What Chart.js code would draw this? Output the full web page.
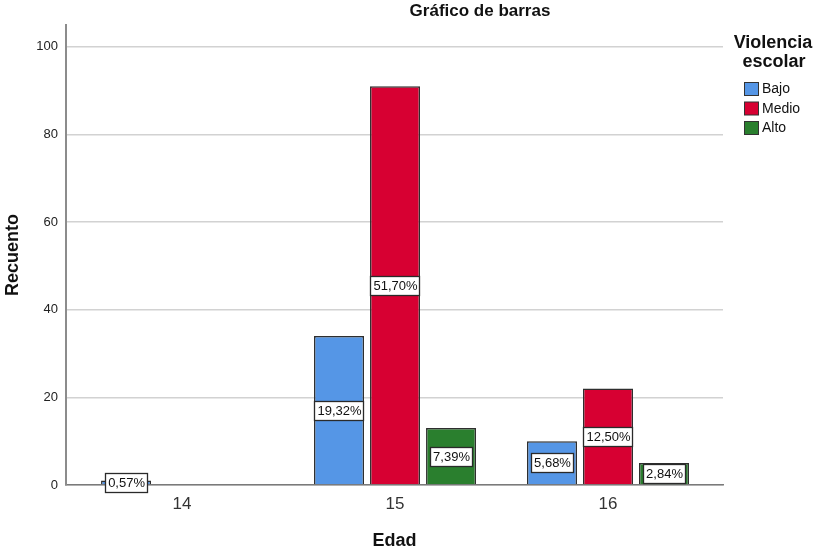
<!DOCTYPE html>
<html>
<head>
<meta charset="utf-8">
<script src="https://cdn.jsdelivr.net/npm/chart.js@4.4.1/dist/chart.umd.min.js"></script>
<style>
  html, body { margin: 0; padding: 0; background: #fff; }
  #wrap { width: 814px; height: 550px; }
</style>
</head>
<body>
<div id="wrap"><canvas id="barras"></canvas></div>
<script>
// datos (recuentos por edad)
const edades = [14, 15, 16];
const niveles = ['Bajo', 'Medio', 'Alto'];
const bajo = [1, 34, 10];
const medio = [null, 91, 22];
const alto = [null, 13, 5];
const yTicks = [0, 20, 40, 60, 80, 100];
const colores = ['#5596E6', '#D70032', '#2A7F2E'];

const FONT = '"Liberation Sans", Arial, sans-serif';
const series = [bajo, medio, alto];
const total = series.flat().reduce((s, v) => s + (v || 0), 0);

function pct(v) {
    return (v / total * 100).toFixed(2).replace('.', ',') + '%';
}

// etiquetas de porcentaje dentro de cada barra
const etiquetasPlugin = {
    id: 'etiquetas',
    afterDatasetsDraw(chart) {
        const ctx = chart.ctx;
        ctx.save();
        ctx.font = '13px ' + FONT;
        ctx.textAlign = 'center';
        ctx.textBaseline = 'middle';
        chart.data.datasets.forEach((ds, i) => {
            const meta = chart.getDatasetMeta(i);
            meta.data.forEach((bar, j) => {
                const v = ds.data[j].y;
                if (v == null) return;
                const txt = pct(v);
                const cy = (bar.y + bar.base) / 2;
                const w = ctx.measureText(txt).width + 5;
                const h = 19;
                const bx = Math.round(bar.x - w / 2) + 0.5;
                const by = Math.round(cy - h / 2) + 0.5;
                ctx.fillStyle = '#fff';
                ctx.fillRect(bx, by, Math.round(w), h);
                ctx.strokeStyle = '#2a2a2a';
                ctx.lineWidth = 1.3;
                ctx.strokeRect(bx, by, Math.round(w), h);
                ctx.fillStyle = '#111';
                ctx.fillText(txt, bar.x + 0.5, cy + 1);
            });
        });
        ctx.restore();
    }
};

// titulo, leyenda y titulos de ejes al estilo SPSS
const textosPlugin = {
    id: 'textos',
    afterDraw(chart) {
        const ctx = chart.ctx;
        const area = chart.chartArea;
        ctx.save();
        ctx.fillStyle = '#111';
        ctx.textBaseline = 'middle';
        ctx.textAlign = 'center';
        ctx.font = 'bold 17px ' + FONT;
        ctx.fillText('Gráfico de barras', 480, 11);

        ctx.font = 'bold 18px ' + FONT;
        ctx.fillText('Edad', (area.left + area.right) / 2, 541);
        ctx.save();
        ctx.translate(13, 255);
        ctx.rotate(-Math.PI / 2);
        ctx.fillText('Recuento', 0, 0);
        ctx.restore();

        // leyenda
        ctx.fillText('Violencia', 773, 43);
        ctx.fillText('escolar', 774, 62);
        ctx.textAlign = 'left';
        ctx.font = '14px ' + FONT;
        niveles.forEach((n, i) => {
            const y = 82 + i * 19.5;
            ctx.fillStyle = colores[i];
            ctx.fillRect(744.5, y + 0.5, 14, 13);
            ctx.strokeStyle = '#333';
            ctx.lineWidth = 1;
            ctx.strokeRect(744.5, y + 0.5, 14, 13);
            ctx.fillStyle = '#111';
            ctx.fillText(n, 762, y + 7.5);
        });
        ctx.restore();
    }
};

const datasets = niveles.map((n, i) => ({
    label: n,
    data: edades.map((e, j) => ({ x: e, y: series[i][j] })),
    backgroundColor: colores[i],
    borderColor: '#2e2e2e',
    borderWidth: 1.5,
    categoryPercentage: 0.789,
    barPercentage: 0.893
}));

new Chart(document.getElementById('barras'), {
    type: 'bar',
    data: { datasets: datasets },
    options: {
        responsive: true,
        maintainAspectRatio: false,
        animation: false,
        layout: { padding: { left: 0, top: 25, right: 91, bottom: 0 } },
        plugins: {
            legend: { display: false },
            title: { display: false },
            tooltip: { enabled: false }
        },
        scales: {
            x: {
                type: 'linear',
                offset: false,
                min: 13.455,
                max: 16.54,
                afterBuildTicks: (scale) => { scale.ticks = edades.map(v => ({ value: v })); },
                afterFit: (scale) => { scale.height = 65; },
                grid: { display: false, drawTicks: false, offset: false },
                border: { color: '#7a7a7a', width: 1.5 },
                ticks: {
                    padding: 9,
                    color: '#333',
                    font: { family: FONT, size: 17 },
                    callback: (v) => String(v)
                }
            },
            y: {
                min: 0,
                max: 105,
                afterBuildTicks: (scale) => { scale.ticks = yTicks.map(v => ({ value: v })); },
                afterFit: (scale) => { scale.width = 66; },
                grid: { color: '#d2d2d2', lineWidth: 1.5, drawTicks: false },
                border: { color: '#8c8c8c', width: 2 },
                ticks: {
                    padding: 8,
                    color: '#222',
                    font: { family: FONT, size: 13 }
                }
            }
        }
    },
    plugins: [etiquetasPlugin, textosPlugin]
});
</script>
</body>
</html>
